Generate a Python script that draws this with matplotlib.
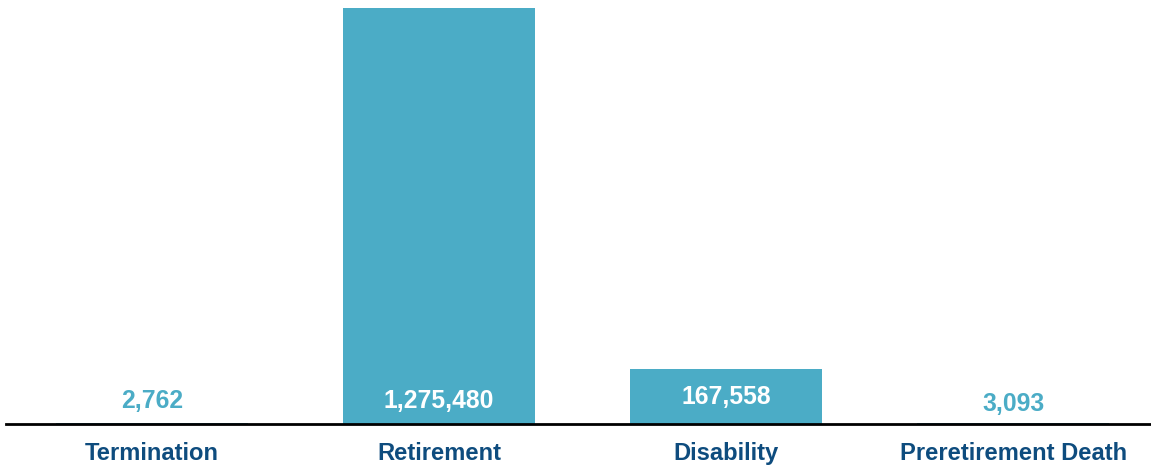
import matplotlib
matplotlib.use("Agg")
import matplotlib.pyplot as plt
from matplotlib.transforms import offset_copy

categories = ["Termination", "Retirement", "Disability", "Preretirement Death"]
values = [2762, 1275480, 167558, 3093]

bar_color = "#4BACC6"
label_color = "#0E4C7E"

plt.rcParams['font.family'] = ['Liberation Sans', 'DejaVu Sans']

W, H = 1151, 465
fig = plt.figure(figsize=(W / 100, H / 100), dpi=100)
ax = fig.add_axes([6 / W, (H - 424) / H, (W - 6) / W, (424 - 8) / H])

x = list(range(len(categories)))
ax.bar(x, values, width=0.67, color=bar_color, zorder=2)
ax.set_xlim(-0.509, 3.48)
ax.set_ylim(0, max(values))

for s in ["top", "right", "left"]:
    ax.spines[s].set_visible(False)
ax.spines["bottom"].set_color("black")
ax.spines["bottom"].set_linewidth(2)
ax.spines["bottom"].set_zorder(3)
ax.set_yticks([])
ax.set_xticks(x)
ax.set_xticklabels(categories, fontsize=17.1, fontweight="bold", color=label_color)
ax.tick_params(axis="x", length=0, pad=13)

threshold = max(values) * 0.05
for xi, v in zip(x, values):
    inside = v > threshold
    offset = 27 if (inside and v < max(values) * 0.2) else 23
    if not inside and xi == 3:
        offset = 20
    trans = offset_copy(ax.transData, fig=fig, x=0, y=offset, units="dots")
    ax.text(xi, 0, f"{v:,}", transform=trans, ha="center", va="center",
            fontsize=17.8, fontweight="bold",
            color="white" if inside else bar_color, zorder=4)

fig.savefig("out.png", dpi=100)
